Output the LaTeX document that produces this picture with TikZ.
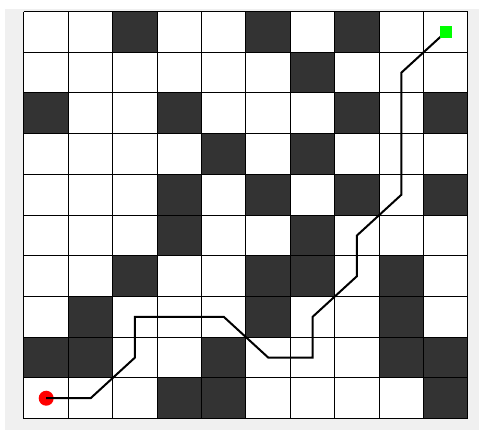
\documentclass[tikz,border=0pt]{standalone}
\usepackage{xcolor}
\usepackage{tikz}

\definecolor{wallgray}{HTML}{333333}
\definecolor{figgray}{HTML}{F0F0F0}
\definecolor{startred}{HTML}{FF0000}
\definecolor{goalgreen}{HTML}{00FF00}

\begin{document}
\begin{tikzpicture}[
      x=22.2pt, y=-20.35pt,
      wall/.style={fill=wallgray, draw=none},
      gridline/.style={draw=black, line width=0.5pt},
      route/.style={draw=black, line width=1pt, line join=miter},
      startdot/.style={circle, fill=startred, inner sep=0pt, minimum size=7.5pt},
      goalsq/.style={rectangle, fill=goalgreen, inner sep=0pt, minimum size=6pt},
    ]

    % figure area with its grey frame
    \useasboundingbox (-0.5405,-0.285) rectangle (10.248,10.28);
    \fill[figgray] (-0.428,-0.064) rectangle (10.248,10.28);
    \fill[white] (0,0) rectangle (10,10);

    % walls, given as row/column
    \foreach \r/\c in {0/2,0/5,0/7, 1/6, 2/0,2/3,2/7,2/9, 3/4,3/6,
                       4/3,4/5,4/7,4/9, 5/3,5/6, 6/2,6/5,6/6,6/8,
                       7/1,7/5,7/8, 8/0,8/1,8/4,8/8,8/9, 9/3,9/4,9/9}
      \fill[wall] (\c,\r) rectangle ++(1,1);

    % grid lines
    \foreach \i in {0,...,10} {
      \draw[gridline] (\i,0) -- (\i,10);
      \draw[gridline] (0,\i) -- (10,\i);
    }

    % start, route and goal
    \node[startdot] (start) at (0.5,9.5) {};
    \draw[route] (start.center) -- (1.5,9.5) -- (2.5,8.5) -- (2.5,7.5)
      -- (4.5,7.5) -- (5.5,8.5) -- (6.5,8.5) -- (6.5,7.5) -- (7.5,6.5)
      -- (7.5,5.5) -- (8.5,4.5) -- (8.5,1.5) -- (9.5,0.5) coordinate (end);
    \node[goalsq] (goal) at (end) {};

  \end{tikzpicture}
\end{document}
